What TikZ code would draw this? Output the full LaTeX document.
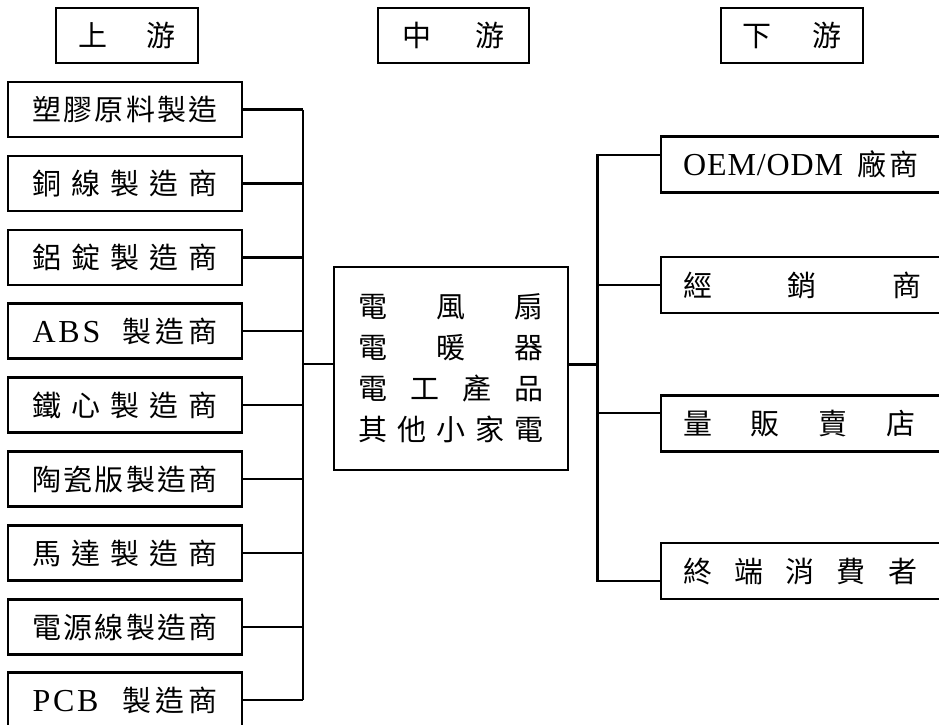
\documentclass[tikz,border=0pt]{standalone}
\usepackage{fontspec}
\setmainfont{Noto Sans CJK TC}
\newfontfamily\latin{Liberation Serif}
\usetikzlibrary{calc}
\newcommand{\spread}[2]{\makebox[#1][s]{#2}}
\newcommand{\latbig}{\latin\fontsize{32}{41}\selectfont}

\tikzset{
	hdbox/.style={draw, line width=2.3pt, minimum width=142pt, minimum height=55pt, inner sep=0pt},
	upbox/.style={draw, line width=2.3pt, minimum width=234pt, minimum height=55pt, inner sep=0pt},
	downbox/.style={draw, line width=2.3pt, anchor=west, minimum height=56pt, text width=278pt, inner xsep=22pt, inner ysep=0pt, align=left},
	link/.style={line width=2.3pt}
}

\begin{document}
\begin{tikzpicture}[x=1pt, y=-1pt, font=\fontsize{29}{41}\selectfont]
	%%%%% START %%%%%
	\clip (0, 0) rectangle (939, 724);
	
	% headings
	\node[hdbox] (hup) at (127, 35.5) {\spread{97pt}{上\hfil 游}};
	\node[hdbox, minimum width=151pt] (hmid) at (453.5, 35.5) {\spread{102pt}{中\hfil 游}};
	\node[hdbox] (hdown) at (792, 35.5) {\spread{99pt}{下\hfil 游}};
	
	% upstream
	\node[upbox] (u1) at (125, 109.5) {\spread{185pt}{塑\hfil 膠\hfil 原\hfil 料\hfil 製\hfil 造}};
	\node[upbox] (u2) at (125, 183.5) {\spread{185pt}{銅\hfil 線\hfil 製\hfil 造\hfil 商}};
	\node[upbox] (u3) at (125, 257.5) {\spread{185pt}{鋁\hfil 錠\hfil 製\hfil 造\hfil 商}};
	\node[upbox] (u4) at (125, 331) {{\latbig\spread{68pt}{A\hfil B\hfil S}}\hspace{22pt}製\hspace{4pt}造\hspace{4pt}商};
	\node[upbox] (u5) at (125, 405) {\spread{185pt}{鐵\hfil 心\hfil 製\hfil 造\hfil 商}};
	\node[upbox] (u6) at (125, 479) {\spread{185pt}{陶\hfil 瓷\hfil 版\hfil 製\hfil 造\hfil 商}};
	\node[upbox] (u7) at (125, 553) {\spread{185pt}{馬\hfil 達\hfil 製\hfil 造\hfil 商}};
	\node[upbox] (u8) at (125, 627) {\spread{185pt}{電\hfil 源\hfil 線\hfil 製\hfil 造\hfil 商}};
	\node[upbox] (u9) at (125, 700) {{\latbig\spread{66pt}{P\hfil C\hfil B}}\hspace{24pt}製\hspace{4pt}造\hspace{4pt}商};
	
	% midstream
	\node[draw, line width=2.3pt, minimum width=234pt, minimum height=203pt, align=center] (mid) at (451, 368.5)
		{\spread{186pt}{電\hfil 風\hfil 扇}\\ \spread{186pt}{電\hfil 暖\hfil 器}\\
		 \spread{186pt}{電\hfil 工\hfil 產\hfil 品}\\ \spread{186pt}{其\hfil 他\hfil 小\hfil 家\hfil 電}};
	
	% downstream
	\node[downbox] (d1) at (660, 164.5) {{\latbig\spread{160pt}{O\hfil E\hfil M\hfil /\hfil O\hfil D\hfil M}}\hspace{14pt}廠\hspace{3pt}商};
	\node[downbox] (d2) at (660, 285) {\spread{238pt}{經\hfil 銷\hfil 商}};
	\node[downbox] (d3) at (660, 423.5) {\spread{232pt}{量\hfil 販\hfil 賣\hfil 店}};
	\node[downbox] (d4) at (660, 571) {\spread{234pt}{終\hfil 端\hfil 消\hfil 費\hfil 者}};
	
	% connectors
	\coordinate (lbus) at (303, 0);
	\coordinate (rbus) at (597.5, 0);
	\foreach \i in {1,...,9}
		\draw[link] (u\i.east) -- (u\i.east -| lbus);
	\draw[link] (u1.east -| lbus) -- (u9.east -| lbus);
	\draw[link] (lbus |- 0, 364) -- (mid.west |- 0, 364);
	\draw[link] (mid.east |- 0, 364.5) -- (rbus |- 0, 364.5);
	
	\draw[link] (d1.west |- 0, 155) -- (rbus |- 0, 155) -- (rbus |- 0, 581) -- (d4.west |- 0, 581);
	\draw[link] (rbus |- d2.west) -- (d2.west);
	\draw[link] (rbus |- 0, 413) -- (d3.west |- 0, 413);
	%%%%% END %%%%%
\end{tikzpicture}
\end{document}
